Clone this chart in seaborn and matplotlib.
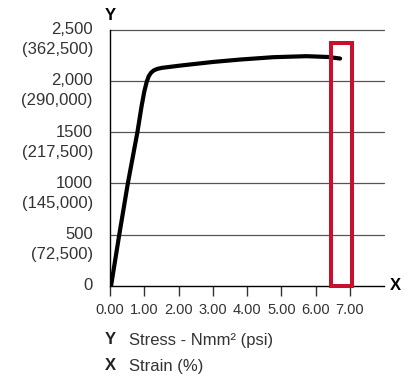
import numpy as np
import pandas as pd
import matplotlib
matplotlib.use('Agg')
import matplotlib.pyplot as plt
import matplotlib.transforms as mtransforms
from matplotlib.patches import Rectangle
import seaborn as sns

# stress-strain curve
strain = [0.03, 0.27, 0.52, 0.80, 0.92, 1.00, 1.07, 1.13, 1.20, 1.28, 1.38, 1.51,
          2.04, 3.01, 3.79, 4.76, 5.73, 6.36, 6.71]
stress = [0, 500, 1000, 1500, 1751, 1895, 1990, 2045, 2080, 2102, 2116, 2126,
          2148, 2184, 2207, 2230, 2240, 2232, 2217]

y_ticks = [0, 500, 1000, 1500, 2000, 2500]
y_labels = ['0', '500', '1000', '1500', '2,000', '2,500']
psi_labels = ['', '(72,500)', '(145,000)', '(217,500)', '(290,000)', '(362,500)']
x_ticks = [0, 1, 2, 3, 4, 5, 6, 7]
x_labels = ['0.00', '1.00', '2.00', '3.00', '4.00', '5.00', '6.00', '7.00']

# highlighted strain window
box_x = [6.44, 7.06]
box_top = 2373

sns.set_style('white')
plt.rcParams['font.family'] = ['Liberation Sans', 'DejaVu Sans']

df = pd.DataFrame({'Strain': strain, 'Stress': stress})

fig = plt.figure(figsize=(4.10, 3.76), dpi=100)
W, H = 410, 376
ax = fig.add_axes([110 / W, 1 - 286 / H, 274 / W, 256.5 / H])

for y in y_ticks[1:]:
    ax.axhline(y, color='#555555', lw=0.9, clip_on=False, zorder=1)

sns.lineplot(data=df, x='Strain', y='Stress', ax=ax, color='black', lw=3,
             sort=False, solid_capstyle='round', solid_joinstyle='round', zorder=3)

ax.add_patch(Rectangle((box_x[0], 0), box_x[1] - box_x[0], box_top, fill=False,
                       edgecolor='#C8102E', lw=2.9, clip_on=False, zorder=4))

ax.set_xlim(0, 7.99)
ax.set_ylim(0, 2500)
for s in ['top', 'right']:
    ax.spines[s].set_visible(False)
ax.spines['left'].set_color('black')
ax.spines['bottom'].set_color('black')
ax.spines['left'].set_linewidth(1)
ax.spines['bottom'].set_linewidth(1)

ax.set_xticks(x_ticks)
ax.set_xticklabels(x_labels, fontsize=10.5, color='#333333')
ax.tick_params(axis='x', length=7, width=1, color='#333333', pad=5, bottom=True)
ax.set_yticks([0])
ax.set_yticklabels([''])
ax.tick_params(axis='y', length=0)
ax.set_xlabel('')
ax.set_ylabel('')

tr = mtransforms.blended_transform_factory(fig.transFigure, ax.transData)
for y, lab, psi in zip(y_ticks, y_labels, psi_labels):
    ax.text(93 / W, y, lab, transform=tr, ha='right', va='center', fontsize=12, color='#333333')
    if psi:
        off = mtransforms.offset_copy(tr, fig=fig, x=0, y=-20, units='dots')
        ax.text(93 / W, y, psi, transform=off, ha='right', va='center', fontsize=12, color='#333333')

fig.text(110 / W, 1 - 16 / H, 'Y', ha='center', va='center', fontsize=12, fontweight='bold', color='black')
fig.text(395 / W, 1 - 286 / H, 'X', ha='center', va='center', fontsize=12, fontweight='bold', color='black')

fig.text(110 / W, 1 - 340 / H, 'Y', ha='center', va='center', fontsize=12, fontweight='bold', color='#222222')
fig.text(129 / W, 1 - 340 / H, 'Stress - Nmm\u00b2 (psi)', ha='left', va='center', fontsize=12, color='#333333')
fig.text(110 / W, 1 - 366 / H, 'X', ha='center', va='center', fontsize=12, fontweight='bold', color='#222222')
fig.text(129 / W, 1 - 366 / H, 'Strain (%)', ha='left', va='center', fontsize=12, color='#333333')

fig.savefig('out.png', dpi=100)
